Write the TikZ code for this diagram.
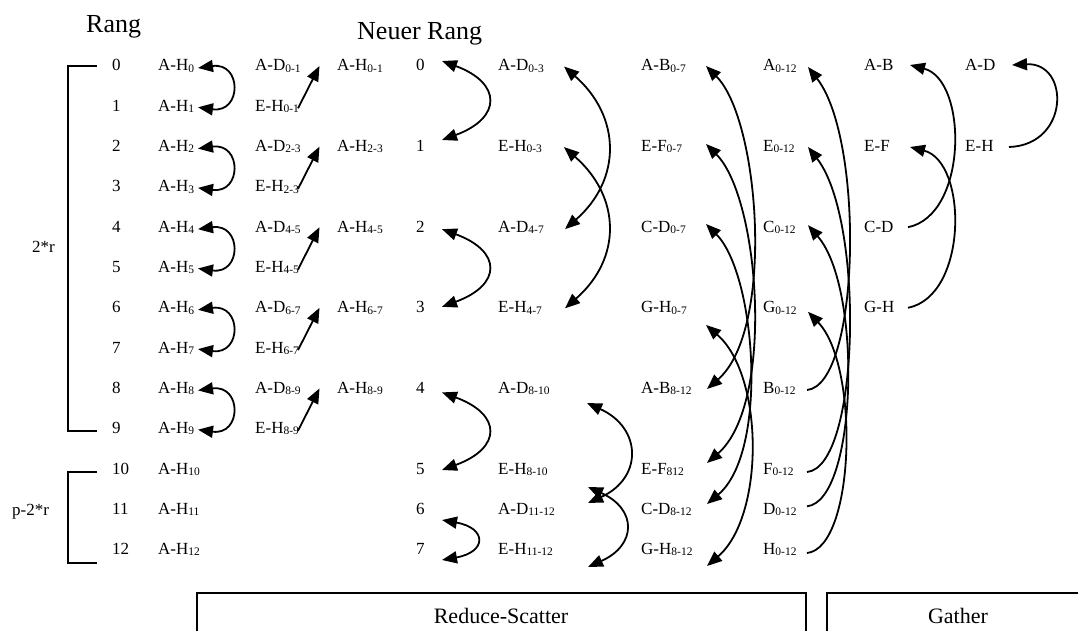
\documentclass[tikz,border=0pt]{standalone}
\usepackage{fontspec}
\setmainfont{Liberation Serif}
\usetikzlibrary{arrows.meta,calc}
\newcommand\mysub[1]{\raisebox{-1.2pt}{\fontsize{11.5}{12}\selectfont #1}}
\begin{document}
\begin{tikzpicture}[x=1pt,y=-1pt,
  lbl/.style={anchor=base west,inner sep=0pt,font=\fontsize{17}{17}\selectfont},
  big/.style={anchor=base west,inner sep=0pt,font=\fontsize{26}{26}\selectfont},
  boxlbl/.style={anchor=base,inner sep=0pt,font=\fontsize{22}{22}\selectfont},
  ln/.style={line width=1.8pt},
  dbl/.style={ln,{Triangle[length=15pt,width=12pt]}-{Triangle[length=15pt,width=12pt]}},
  sgl/.style={ln,-{Triangle[length=15pt,width=12pt]}}]
\useasboundingbox (0,0) rectangle (1078,631);
\clip (0,0) rectangle (1078,631);

% headers
\node[big] (rang) at (86,32.5) {Rang};
\node[big] (neuer) at (357,39.5) {Neuer Rang};
\node[lbl] (zr) at (32,252) {2*r};
\node[lbl] (pzr) at (12,515.5) {p-2*r};

% brackets
\draw[ln] (97,66) -- (68,66) -- (68,431) -- (97,431);
\draw[ln] (97,472) -- (68,472) -- (68,563) -- (97,563);

% ranks and A-H
\foreach \i/\y in {0/71.0,1/111.3,2/151.6,3/191.9,4/232.2,5/272.5,6/312.8,7/353.1,8/393.4,9/433.7,10/474.0,11/514.3,12/554.6}{
  \node[lbl] (r\i) at (112,\y) {\i};
  \node[lbl] (ah\i) at (158,\y) {A-H\mysub{\i}};
}

% step 1
\foreach \k/\a/\b/\ya/\yb/\s in {01/0/1/71.0/111.3/0-1, 23/2/3/151.6/191.9/2-3, 45/4/5/232.2/272.5/4-5, 67/6/7/312.8/353.1/6-7, 89/8/9/393.4/433.7/8-9}{
  \node[lbl] (ad\k) at (255,\ya) {A-D\mysub{\s}};
  \node[lbl] (eh\k) at (255,\yb) {E-H\mysub{\s}};
  \node[lbl] (ahp\k) at (337,\ya) {A-H\mysub{\s}};
  \coordinate (ta\k) at ($(ah\a.base west)+(40,-3)$);
  \coordinate (tb\k) at ($(ah\b.base west)+(40,-4)$);
  \draw[dbl] (ta\k) .. controls +(44,-6) and +(44,6) .. (tb\k);
  \coordinate (se\k) at ($(eh\k.base west)+(43,-3)$);
  \coordinate (te\k) at ($(ad\k.base west)+(64.5,-5)$);
  \draw[sgl] (se\k) -- (te\k);
}

% new ranks
\node[lbl] (nr0) at (416,71.0) {0};
\node[lbl] (nr1) at (416,151.6) {1};
\node[lbl] (nr2) at (416,232.2) {2};
\node[lbl] (nr3) at (416,312.8) {3};
\node[lbl] (nr4) at (416,393.4) {4};
\node[lbl] (nr5) at (416,474.0) {5};
\node[lbl] (nr6) at (416,514.3) {6};
\node[lbl] (nr7) at (416,554.6) {7};
\coordinate (tn0) at ($(nr0.base west)+(26,-10)$);
\coordinate (tn1) at ($(nr1.base west)+(26,-11.6)$);
\coordinate (tn2) at ($(nr2.base west)+(26,-3)$);
\coordinate (tn3) at ($(nr3.base west)+(26,-6)$);
\coordinate (tn4) at ($(nr4.base west)+(26,-1)$);
\coordinate (tn5) at ($(nr5.base west)+(26,-4)$);
\coordinate (tn6) at ($(nr6.base west)+(26,5.7)$);
\coordinate (tn7) at ($(nr7.base west)+(26,5.4)$);
\draw[dbl] (tn0) .. controls +(60,22) and +(60,-22) .. (tn1);
\draw[dbl] (tn2) .. controls +(60,22) and +(60,-22) .. (tn3);
\draw[dbl] (tn4) .. controls +(60,22) and +(60,-22) .. (tn5);
\draw[dbl] (tn6) .. controls +(45,8) and +(45,-8) .. (tn7);

% step 2 column
\node[lbl] (ad03) at (498,71.0) {A-D\mysub{0-3}};
\node[lbl] (eh03) at (498,151.6) {E-H\mysub{0-3}};
\node[lbl] (ad47) at (498,232.2) {A-D\mysub{4-7}};
\node[lbl] (eh47) at (498,312.8) {E-H\mysub{4-7}};
\node[lbl] (ad810) at (498,393.4) {A-D\mysub{8-10}};
\node[lbl] (eh810) at (498,474.0) {E-H\mysub{8-10}};
\node[lbl] (ad1112) at (498,514.3) {A-D\mysub{11-12}};
\node[lbl] (eh1112) at (498,554.6) {E-H\mysub{11-12}};
\coordinate (t-ad03) at ($(ad03.base west)+(66,-4.5)$);
\coordinate (t-eh03) at ($(eh03.base west)+(66,-4.5)$);
\coordinate (t-ad47) at ($(ad47.base west)+(67,-3)$);
\coordinate (t-eh47) at ($(eh47.base west)+(67,-4.5)$);
\coordinate (t-ad810) at ($(ad810.base west)+(89,9.6)$);
\coordinate (t-ad1112) at ($(ad1112.base west)+(90,-11.3)$);
\coordinate (t-eh810) at ($(eh810.base west)+(90,13)$);
\coordinate (t-eh1112) at ($(eh1112.base west)+(90,12.4)$);
\draw[dbl] (t-ad03) .. controls +(57,50) and +(57,-50) .. (t-ad47);
\draw[dbl] (t-eh03) .. controls +(57,50) and +(57,-50) .. (t-eh47);
\draw[dbl] (t-ad810) .. controls +(55,25) and +(55,-25) .. (t-ad1112);
\draw[dbl] (t-eh810) .. controls +(49,22) and +(49,-22) .. (t-eh1112);

% step 3 column
\node[lbl] (ab07) at (641,71.0) {A-B\mysub{0-7}};
\node[lbl] (ef07) at (641,151.6) {E-F\mysub{0-7}};
\node[lbl] (cd07) at (641,232.2) {C-D\mysub{0-7}};
\node[lbl] (gh07) at (641,312.8) {G-H\mysub{0-7}};
\node[lbl] (ab812) at (641,393.4) {A-B\mysub{8-12}};
\node[lbl] (ef812) at (641,474.0) {E-F\mysub{812}};
\node[lbl] (cd812) at (641,514.3) {C-D\mysub{8-12}};
\node[lbl] (gh812) at (641,554.6) {G-H\mysub{8-12}};
\coordinate (t-ab07) at ($(ab07.base west)+(65,-5)$);
\coordinate (t-ef07) at ($(ef07.base west)+(65,-7.6)$);
\coordinate (t-cd07) at ($(cd07.base west)+(65,-8.2)$);
\coordinate (t-gh07) at ($(gh07.base west)+(65,12.2)$);
\coordinate (t-ab812) at ($(ab812.base west)+(66,-4.4)$);
\coordinate (t-ef812) at ($(ef812.base west)+(66,-11)$);
\coordinate (t-cd812) at ($(cd812.base west)+(66,-10.3)$);
\coordinate (t-gh812) at ($(gh812.base west)+(66,11.4)$);
\draw[dbl] (t-ab07) .. controls +(54,54) and +(68,-59) .. (t-ab812);
\draw[dbl] (t-ef07) .. controls +(54,54) and +(68,-59) .. (t-ef812);
\draw[dbl] (t-cd07) .. controls +(50,50) and +(62,-52) .. (t-cd812);
\draw[dbl] (t-gh07) .. controls +(58,50) and +(58,-50) .. (t-gh812);

% reduced column
\node[lbl] (a012) at (763,71.0) {A\mysub{0-12}};
\node[lbl] (e012) at (763,151.6) {E\mysub{0-12}};
\node[lbl] (c012) at (763,232.2) {C\mysub{0-12}};
\node[lbl] (g012) at (763,312.8) {G\mysub{0-12}};
\node[lbl] (b012) at (763,393.4) {B\mysub{0-12}};
\node[lbl] (f012) at (763,474.0) {F\mysub{0-12}};
\node[lbl] (d012) at (763,514.3) {D\mysub{0-12}};
\node[lbl] (h012) at (763,554.6) {H\mysub{0-12}};
\coordinate (t-a012) at ($(a012.base west)+(45,-4)$);
\coordinate (t-e012) at ($(e012.base west)+(45,-4.6)$);
\coordinate (t-c012) at ($(c012.base west)+(45,-7)$);
\coordinate (t-g012) at ($(g012.base west)+(45,-1)$);
\coordinate (s-b012) at ($(b012.base west)+(44,-3.4)$);
\coordinate (s-f012) at ($(f012.base west)+(44,-2)$);
\coordinate (s-d012) at ($(d012.base west)+(44,-8)$);
\coordinate (s-h012) at ($(h012.base west)+(44,-1.6)$);
\draw[sgl] (s-b012) .. controls +(53,-5) and +(57,73) .. (t-a012);
\draw[sgl] (s-f012) .. controls +(53,-5) and +(57,73) .. (t-e012);
\draw[sgl] (s-d012) .. controls +(50,-5) and +(55,63) .. (t-c012);
\draw[sgl] (s-h012) .. controls +(48,-5) and +(52,54) .. (t-g012);

% gather columns
\node[lbl] (gab) at (864,71.0) {A-B};
\node[lbl] (gef) at (864,151.6) {E-F};
\node[lbl] (gcd) at (864,232.2) {C-D};
\node[lbl] (ggh) at (864,312.8) {G-H};
\node[lbl] (gad) at (965,71.0) {A-D};
\node[lbl] (geh) at (965,151.6) {E-H};
\coordinate (t-gab) at ($(gab.base west)+(46,-6)$);
\coordinate (t-gef) at ($(gef.base west)+(46,-4.6)$);
\coordinate (s-gcd) at ($(gcd.base west)+(44,-5)$);
\coordinate (s-ggh) at ($(ggh.base west)+(44,-5)$);
\coordinate (t-gad) at ($(gad.base west)+(47,-6)$);
\coordinate (s-geh) at ($(geh.base west)+(44,-4.6)$);
\draw[sgl] (s-gcd) .. controls +(60,-12) and +(58,15) .. (t-gab);
\draw[sgl] (s-ggh) .. controls +(60,-12) and +(58,15) .. (t-gef);
\draw[sgl] (s-geh) .. controls +(61,-2) and +(58,-3) .. (t-gad);

% phase boxes
\draw[ln] (197,650) -- (197,593) -- (806,593) -- (806,650);
\draw[ln] (827,650) -- (827,593) -- (1090,593);
\node[boxlbl] (rs) at (501,623) {Reduce-Scatter};
\node[boxlbl] (ga) at (958,623.5) {Gather};
\end{tikzpicture}
\end{document}
